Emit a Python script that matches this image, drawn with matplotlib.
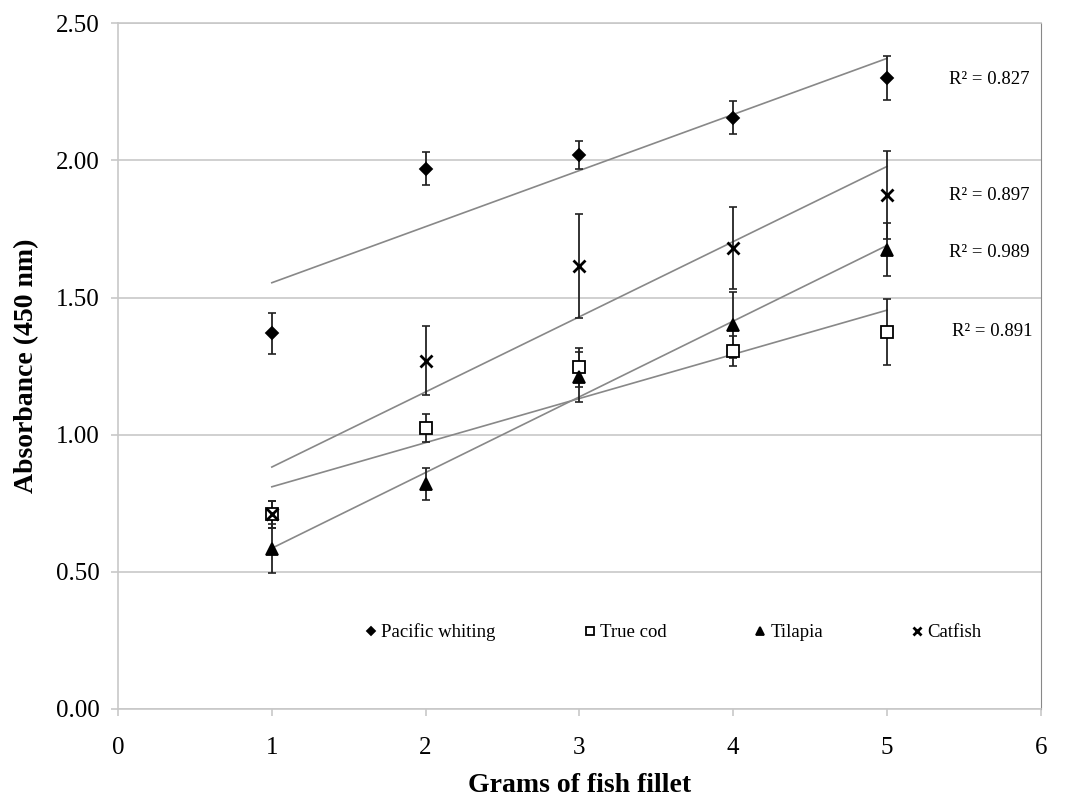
import matplotlib.pyplot as plt
import numpy as np

plt.rcParams['font.family'] = ['Liberation Serif', 'DejaVu Serif']

grams = np.array([1, 2, 3, 4, 5])

whiting = [1.37, 1.97, 2.02, 2.155, 2.30]
whiting_err = [0.075, 0.06, 0.05, 0.06, 0.08]
cod = [0.71, 1.025, 1.245, 1.305, 1.375]
cod_err = [0.05, 0.05, 0.07, 0.055, 0.12]
tilapia = [0.585, 0.82, 1.21, 1.40, 1.675]
tilapia_err = [0.09, 0.057, 0.09, 0.12, 0.095]
catfish = [0.71, 1.27, 1.615, 1.68, 1.875]
catfish_err = [0.05, 0.125, 0.19, 0.15, 0.16]

r2_text = ['R² = 0.827', 'R² = 0.897', 'R² = 0.989', 'R² = 0.891']
r2_x = [5.40, 5.40, 5.40, 5.42]
r2_y = [2.296, 1.873, 1.665, 1.377]

fig = plt.figure(figsize=(10.73, 8.02), dpi=100)
ax = fig.add_axes([0.110, 0.116, 0.860, 0.855])

series = [
    ('Pacific whiting', whiting, whiting_err, 'D', 'black', 6),
    ('True cod', cod, cod_err, 's', 'white', 8),
    ('Tilapia', tilapia, tilapia_err, '^', 'black', 8),
    ('Catfish', catfish, catfish_err, 'x', 'black', 8),
]

for name, y, err, mk, fc, ms in series:
    ax.errorbar(grams, y, yerr=err, fmt='none', ecolor='#222222',
                elinewidth=1.3, capsize=3, capthick=1.2, zorder=3)
    # linear trendline
    k, b = np.polyfit(grams, y, 1)
    ax.plot(grams[[0, -1]], k * grams[[0, -1]] + b, color='#888888',
            lw=1.2, zorder=2)
    ax.plot(grams, y, linestyle='none', marker=mk, markersize=ms,
            markerfacecolor=fc, markeredgecolor='black',
            markeredgewidth=1.3 if mk != 'x' else 2,
            label=name, zorder=4)

for t, xx, yy in zip(r2_text, r2_x, r2_y):
    ax.text(xx, yy, t, fontsize=13.5, va='center', ha='left')

ax.set_xlim(0, 6)
ax.set_ylim(0, 2.5)
ax.set_yticks(np.arange(0, 2.51, 0.5))
ax.set_yticklabels(['%.2f' % v for v in np.arange(0, 2.51, 0.5)])
ax.set_xticks(range(0, 7))
ax.yaxis.grid(True, color='#c8c8c8', lw=1.2)
ax.set_axisbelow(True)
for s in ['left', 'bottom', 'top']:
    ax.spines[s].set_color('#c8c8c8')
    ax.spines[s].set_linewidth(1.2)
ax.spines['right'].set_color('#888888')
ax.tick_params(axis='both', labelsize=18, color='#c8c8c8', length=5, width=1.2)
ax.tick_params(axis='x', pad=15)
ax.tick_params(axis='y', pad=8.5)

ax.set_xlabel('Grams of fish fillet', fontsize=20, fontweight='bold')
ax.set_ylabel('Absorbance (450 nm)', fontsize=20, fontweight='bold')
ax.xaxis.set_label_coords(0.5, -0.093)
ax.yaxis.set_label_coords(-0.0856, 0.5)

ax.legend(loc='center', bbox_to_anchor=(0.602, 0.112), ncol=4, frameon=False,
          fontsize=13.5, handlelength=0.6, handletextpad=0.25,
          columnspacing=4.7, markerscale=0.75)

plt.savefig('out.png', dpi=100)
